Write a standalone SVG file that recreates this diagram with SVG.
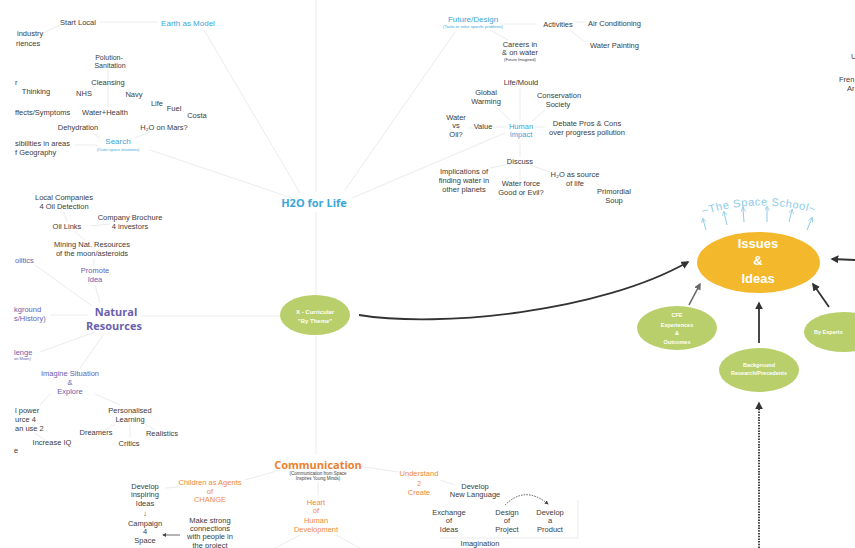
<svg xmlns="http://www.w3.org/2000/svg" width="855" height="548" viewBox="0 0 855 548">
<style>
.t{font-family:"Liberation Sans",Arial,sans-serif;font-size:7.5px;fill:#3c3c3c;text-anchor:middle}
.s{text-anchor:start}
.tiny{font-size:4px}
.b{fill:#3aa6da}
.p{fill:#6a60ae}
.o{fill:#f08a3c}
.h{font-family:"Open Sans","Liberation Sans",sans-serif;font-weight:bold;font-size:11px;text-anchor:middle}
.w{font-family:"Liberation Sans",Arial,sans-serif;font-weight:bold;fill:#fff;text-anchor:middle;font-size:5.5px}
.l{stroke:#ececec;stroke-width:1;fill:none}
.g{fill:#b8cf6b}
.a{stroke:#333;stroke-width:1.8;fill:none}
</style>
<defs>
<marker id="ah" viewBox="0 0 10 10" refX="8" refY="5" markerWidth="8" markerHeight="8" markerUnits="userSpaceOnUse" orient="auto"><path d="M0,0 L10,5 L0,10 z" fill="#333"/></marker>
<marker id="ahg" viewBox="0 0 10 10" refX="8" refY="5" markerWidth="7" markerHeight="7" markerUnits="userSpaceOnUse" orient="auto"><path d="M0,0 L10,5 L0,10 z" fill="#666"/></marker>
<marker id="ahb" viewBox="0 0 10 10" refX="8" refY="5" markerWidth="5" markerHeight="5" markerUnits="userSpaceOnUse" orient="auto"><path d="M0,0 L10,5 L0,10" fill="none" stroke="#8ecbe8" stroke-width="1.5"/></marker>
<marker id="ahs" viewBox="0 0 10 10" refX="8" refY="5" markerWidth="4" markerHeight="4" markerUnits="userSpaceOnUse" orient="auto"><path d="M0,0 L10,5 L0,10 z" fill="#444"/></marker>
<path id="arc" d="M700,216 Q759,196 818,214"/>
</defs>
<rect width="855" height="548" fill="#fff"/>

<g id="connectors">
<path class="l" d="M316,0 L316,192"/>
<path class="l" d="M204,30 L300,193"/>
<path class="l" d="M150,150 L292,198"/>
<path class="l" d="M455,32 L345,190"/>
<path class="l" d="M505,133 L352,198"/>
<path class="l" d="M316,212 L316,295"/>
<path class="l" d="M316,336 L316,455"/>
<path class="l" d="M140,316 L280,316"/>
<path class="l" d="M100,22 L158,22"/>
<path class="l" d="M45,32 L60,25"/>
<path class="l" d="M108,70 L108,108"/>
<path class="l" d="M100,138 L92,133"/>
<path class="l" d="M135,138 L150,132"/>
<path class="l" d="M75,145 L97,145"/>
<path class="l" d="M500,24 L537,24"/>
<path class="l" d="M575,22 L585,22"/>
<path class="l" d="M570,30 L585,42"/>
<path class="l" d="M490,30 L508,40"/>
<path class="l" d="M493,127 L506,127"/>
<path class="l" d="M468,128 L475,128"/>
<path class="l" d="M520,89 L520,120"/>
<path class="l" d="M495,106 L510,120"/>
<path class="l" d="M545,110 L532,121"/>
<path class="l" d="M535,127 L545,127"/>
<path class="l" d="M520,140 L520,157"/>
<path class="l" d="M490,168 L510,164"/>
<path class="l" d="M520,168 L520,180"/>
<path class="l" d="M530,165 L550,172"/>
<path class="l" d="M600,186 L595,182"/>
<path class="l" d="M64,212 L67,222"/>
<path class="l" d="M90,226 L110,224"/>
<path class="l" d="M75,232 L85,240"/>
<path class="l" d="M94,259 L94,266"/>
<path class="l" d="M95,285 L100,303"/>
<path class="l" d="M35,265 L92,306"/>
<path class="l" d="M50,315 L88,315"/>
<path class="l" d="M40,352 L95,332"/>
<path class="l" d="M80,368 L104,334"/>
<path class="l" d="M95,394 L120,405"/>
<path class="l" d="M50,394 L40,405"/>
<path class="l" d="M115,424 L105,430"/>
<path class="l" d="M130,425 L130,438"/>
<path class="l" d="M145,424 L155,430"/>
<path class="l" d="M35,433 L45,440"/>
<path class="l" d="M280,470 L245,480"/>
<path class="l" d="M358,466 L398,472"/>
<path class="l" d="M318,482 L318,495"/>
<path class="l" d="M165,488 L180,487"/>
<path class="l" d="M440,480 L455,485"/>
<path class="l" d="M300,535 L275,548"/>
<path class="l" d="M336,535 L360,548"/>
<path class="l" d="M440,538 L578,538 L578,500"/>
<path class="a" d="M359,315 C440,328 600,312 688,262" marker-end="url(#ah)"/>
<path d="M689,305 L700,284" stroke="#666" stroke-width="1.6" fill="none" marker-end="url(#ahg)"/>
<path class="a" d="M759,343 L759,303" marker-end="url(#ah)"/>
<path class="a" d="M829,307 L813,284" marker-end="url(#ah)"/>
<path class="a" d="M855,260 L832,259" marker-end="url(#ah)"/>
<path d="M759,548 L759,403" stroke="#444" stroke-width="2" stroke-dasharray="1.5 1.2" fill="none" marker-end="url(#ah)"/>
<path d="M180,535 L163,535" stroke="#444" stroke-width="0.8" fill="none" marker-end="url(#ahs)"/>
<path d="M505,505 Q525,485 548,504" stroke="#444" stroke-width="0.9" stroke-dasharray="1.5 1.2" fill="none" marker-end="url(#ahs)"/>
<g stroke="#8ecbe8" stroke-width="1" marker-end="url(#ahb)">
<path d="M706,230 L703,219"/>
<path d="M727,225 L724,212"/>
<path d="M744,222 L743,208"/>
<path d="M767,222 L767,207"/>
<path d="M789,222 L792,210"/>
<path d="M807,230 L812,218"/>
</g>
</g>

<g id="h2o"><text class="h b" x="314" y="207">H2O for Life</text></g>

<g id="earth">
<text class="t" x="78" y="25">Start Local</text>
<text class="t b" x="188" y="26" style="font-size:8px">Earth as Model</text>
<text class="t s" x="17" y="36">industry</text>
<text class="t s" x="16" y="46">riences</text>
<text class="t" x="109" y="60" style="font-size:7px">Polution-</text>
<text class="t" x="110" y="68" style="font-size:7px">Sanitation</text>
<text class="t" x="108" y="85">Cleansing</text>
<text class="t s" x="15" y="85">r</text>
<text class="t" x="36" y="94">Thinking</text>
<text class="t" x="84" y="96">NHS</text>
<text class="t" x="134" y="97">Navy</text>
<text class="t" x="157" y="106">Life</text>
<text class="t" x="174" y="111">Fuel</text>
<text class="t" x="197" y="118">Costa</text>
<text class="t s" x="15" y="115">ffects/Symptoms</text>
<text class="t" x="105" y="115">Water+Health</text>
<text class="t" x="78" y="130">Dehydration</text>
<text class="t" x="164" y="130">H₂O on Mars?</text>
<text class="t s" x="15" y="146">sibilities in areas</text>
<text class="t s" x="15" y="155">f Geography</text>
</g>
<g id="search">
<text class="t b" x="118" y="144" style="font-size:8px">Search</text>
<text class="t b tiny" x="118" y="151">(Outer space situations)</text>
</g>

<g id="future">
<text class="t b" x="473" y="22" style="font-size:8px">Future/Design</text>
<text class="t b tiny" x="473" y="28">(Tasks to solve specific problems)</text>
<text class="t" x="558" y="27">Activities</text>
<text class="t s" x="588" y="26">Air Conditioning</text>
<text class="t s" x="590" y="48">Water Painting</text>
<text class="t" x="520" y="47">Careers in</text>
<text class="t" x="520" y="55">&amp; on water</text>
<text class="t tiny" x="520" y="61">(Future Imagined)</text>
</g>
<g id="human">
<text class="t" x="521" y="85">Life/Mould</text>
<text class="t" x="486" y="95">Global</text>
<text class="t" x="486" y="104">Warming</text>
<text class="t" x="559" y="98">Conservation</text>
<text class="t" x="558" y="107">Society</text>
<text class="t" x="456" y="120">Water</text>
<text class="t" x="456" y="128">vs</text>
<text class="t" x="456" y="137">Oil?</text>
<text class="t" x="483" y="129">Value</text>
<text class="t b" x="521" y="129">Human</text>
<text class="t b" x="521" y="137">Impact</text>
<text class="t" x="587" y="126">Debate Pros &amp; Cons</text>
<text class="t" x="587" y="135">over progress pollution</text>
<text class="t" x="520" y="164">Discuss</text>
<text class="t" x="464" y="174">Implications of</text>
<text class="t" x="464" y="183">finding water in</text>
<text class="t" x="464" y="192">other planets</text>
<text class="t" x="521" y="186">Water force</text>
<text class="t" x="521" y="195">Good or Evil?</text>
<text class="t" x="575" y="177">H₂O as source</text>
<text class="t" x="575" y="186">of life</text>
<text class="t" x="614" y="194">Primordial</text>
<text class="t" x="614" y="203">Soup</text>
</g>
<g id="edge-right">
<text class="t s" x="851" y="59">U</text>
<text class="t s" x="839" y="82">Fren</text>
<text class="t s" x="847" y="91">Ar</text>
</g>

<g id="natural">
<text class="t" x="64" y="200">Local Companies</text>
<text class="t" x="64" y="209">4 Oil Detection</text>
<text class="t" x="130" y="220">Company Brochure</text>
<text class="t" x="130" y="229">4 investors</text>
<text class="t" x="67" y="229">Oil Links</text>
<text class="t" x="92" y="247">Mining Nat. Resources</text>
<text class="t" x="92" y="256">of the moon/asteroids</text>
<text class="t p s" x="15" y="263">olitics</text>
<text class="t p" x="95" y="273">Promote</text>
<text class="t p" x="95" y="282">Idea</text>
<text class="h p" x="116" y="316">Natural</text>
<text class="h p" x="114" y="330">Resources</text>
<text class="t p s" x="14" y="312">kground</text>
<text class="t p s" x="14" y="321">s/History)</text>
<text class="t p s" x="14" y="355">lenge</text>
<text class="t p s tiny" x="14" y="360">on Moon)</text>
<text class="t p" x="70" y="376">Imagine Situation</text>
<text class="t p" x="70" y="385">&amp;</text>
<text class="t p" x="70" y="394">Explore</text>
<text class="t s" x="15" y="413">l power</text>
<text class="t s" x="15" y="422">urce 4</text>
<text class="t s" x="15" y="431">an use 2</text>
<text class="t" x="130" y="413">Personalised</text>
<text class="t" x="130" y="422">Learning</text>
<text class="t" x="96" y="435">Dreamers</text>
<text class="t" x="162" y="436">Realistics</text>
<text class="t s" x="14" y="453">e</text>
<text class="t" x="52" y="445">Increase IQ</text>
<text class="t" x="129" y="446">Critics</text>
</g>

<g id="communication">
<text class="h o" x="318" y="469" style="fill:#ee7f2e">Communication</text>
<text class="t tiny" x="318" y="475" style="font-size:4.5px">(Communication from Space</text>
<text class="t tiny" x="318" y="480" style="font-size:4.5px">Inspires Young Minds)</text>
<text class="t o" x="210" y="485">Children as Agents</text>
<text class="t o" x="210" y="494">of</text>
<text class="t o" x="210" y="502">CHANGE</text>
<text class="t" x="145" y="489">Develop</text>
<text class="t" x="145" y="497">inspiring</text>
<text class="t" x="145" y="506">Ideas</text>
<text class="t" x="145" y="516">↓</text>
<text class="t" x="145" y="526">Campaign</text>
<text class="t" x="145" y="534">4</text>
<text class="t" x="145" y="543">Space</text>
<text class="t" x="210" y="523">Make strong</text>
<text class="t" x="210" y="531">connections</text>
<text class="t" x="210" y="539">with people in</text>
<text class="t" x="210" y="548">the project</text>
<text class="t o" x="316" y="505">Heart</text>
<text class="t o" x="316" y="513">of</text>
<text class="t o" x="316" y="523">Human</text>
<text class="t o" x="316" y="532">Development</text>
<text class="t o" x="419" y="476">Understand</text>
<text class="t o" x="419" y="486">2</text>
<text class="t o" x="419" y="495">Create</text>
<text class="t" x="475" y="489">Develop</text>
<text class="t" x="475" y="497">New Language</text>
<text class="t" x="449" y="515">Exchange</text>
<text class="t" x="449" y="523">of</text>
<text class="t" x="449" y="532">Ideas</text>
<text class="t" x="507" y="515">Design</text>
<text class="t" x="507" y="523">of</text>
<text class="t" x="507" y="532">Project</text>
<text class="t" x="550" y="515">Develop</text>
<text class="t" x="550" y="523">a</text>
<text class="t" x="550" y="532">Product</text>
<text class="t" x="480" y="546">Imagination</text>
</g>

<g id="xcurricular">
<ellipse class="g" cx="315" cy="315" rx="35" ry="20"/>
<text class="w" x="315" y="314" style="font-size:6px">X - Curricular</text>
<text class="w" x="315" y="323" style="font-size:6px">"By Theme"</text>
</g>
<g id="issues">
<ellipse cx="758.5" cy="262.5" rx="61.5" ry="30.5" fill="#f4b82c"/>
<text class="w" x="758" y="248" style="font-size:13px">Issues</text>
<text class="w" x="758" y="265" style="font-size:13px">&amp;</text>
<text class="w" x="758" y="283" style="font-size:13px">Ideas</text>
</g>
<g id="spaceschool">
<text style="font-family:'Liberation Sans',Arial,sans-serif;font-size:11px;fill:#8ecbe8;letter-spacing:0.6px" text-anchor="middle"><textPath href="#arc" startOffset="50%">~The Space School~</textPath></text>
</g>
<g id="cfe">
<ellipse class="g" cx="677" cy="328" rx="40" ry="22"/>
<text class="w" x="677" y="317">CFE</text>
<text class="w" x="677" y="327">Experiences</text>
<text class="w" x="677" y="335">&amp;</text>
<text class="w" x="677" y="344">Outcomes</text>
</g>
<g id="background">
<ellipse class="g" cx="759" cy="370" rx="40" ry="22"/>
<text class="w" x="759" y="367">Background</text>
<text class="w" x="759" y="375">Research/Precedents</text>
</g>
<g id="experts">
<ellipse class="g" cx="844" cy="332" rx="40" ry="20"/>
<text class="w" x="814" y="334" style="text-anchor:start">By Experts</text>
</g>
</svg>
